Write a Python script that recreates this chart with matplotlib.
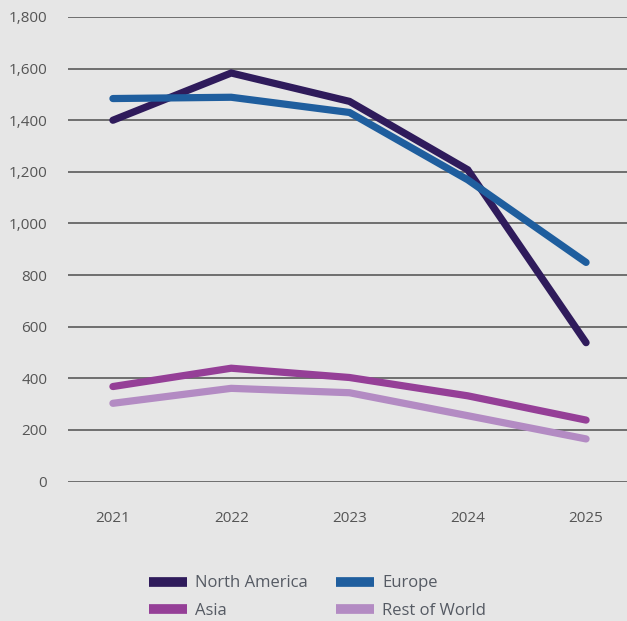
import matplotlib
matplotlib.use("Agg")
import matplotlib.pyplot as plt

years = [2021, 2022, 2023, 2024, 2025]
north_america = [1400, 1583, 1473, 1208, 538]
europe = [1484, 1489, 1430, 1169, 849]
asia = [368, 439, 403, 332, 238]
rest_of_world = [303, 361, 344, 255, 165]
yticks = [0, 200, 400, 600, 800, 1000, 1200, 1400, 1600, 1800]

series = [
    ("North America", north_america, "#2f1b5b"),
    ("Europe", europe, "#1f5e9e"),
    ("Asia", asia, "#953f97"),
    ("Rest of World", rest_of_world, "#b38bc3"),
]

plt.rcParams['font.family'] = ['Open Sans', 'DejaVu Sans']
bg = "#e6e6e6"
fig = plt.figure(figsize=(6.27, 6.21), dpi=100, facecolor=bg)
ax = fig.add_axes([68/627, 1-481.5/621, 1-68/627, (481.5-17)/621])
ax.set_facecolor(bg)

handles = {}
for name, vals, col in series:
    h, = ax.plot(years, vals, color=col, lw=5.2, solid_capstyle='round',
                 solid_joinstyle='miter', label=name, zorder=3)
    handles[name] = h

ax.set_ylim(0, 1800)
ax.set_xlim(2021 - 45/118.5, 2025 + 41/118.5)
ax.set_yticks(yticks)
ax.set_yticklabels([f"{v:,}" for v in yticks])
ax.set_xticks(years)
ax.set_xticklabels([str(y) for y in years])
ax.grid(axis='y', color='#6e6e6e', lw=1.4)
ax.set_axisbelow(True)
for s in ax.spines.values():
    s.set_visible(False)
ax.tick_params(axis='both', length=0, colors='#555555', labelsize=11)
ax.tick_params(axis='y', pad=15)
ax.tick_params(axis='x', pad=21)

order = ["North America", "Asia", "Europe", "Rest of World"]
leg = fig.legend(handles=[handles[n] for n in order], ncol=2, loc='lower left',
                 bbox_to_anchor=(141/627, -6/621), frameon=False, borderpad=0,
                 fontsize=12, handlelength=2.25, handletextpad=0.5,
                 columnspacing=1.7, labelspacing=0.68, labelcolor='#555a63')
for lh in leg.get_lines():
    lh.set_linewidth(7)
    lh.set_solid_capstyle('butt')

fig.savefig("out.png", dpi=100, facecolor=bg)
